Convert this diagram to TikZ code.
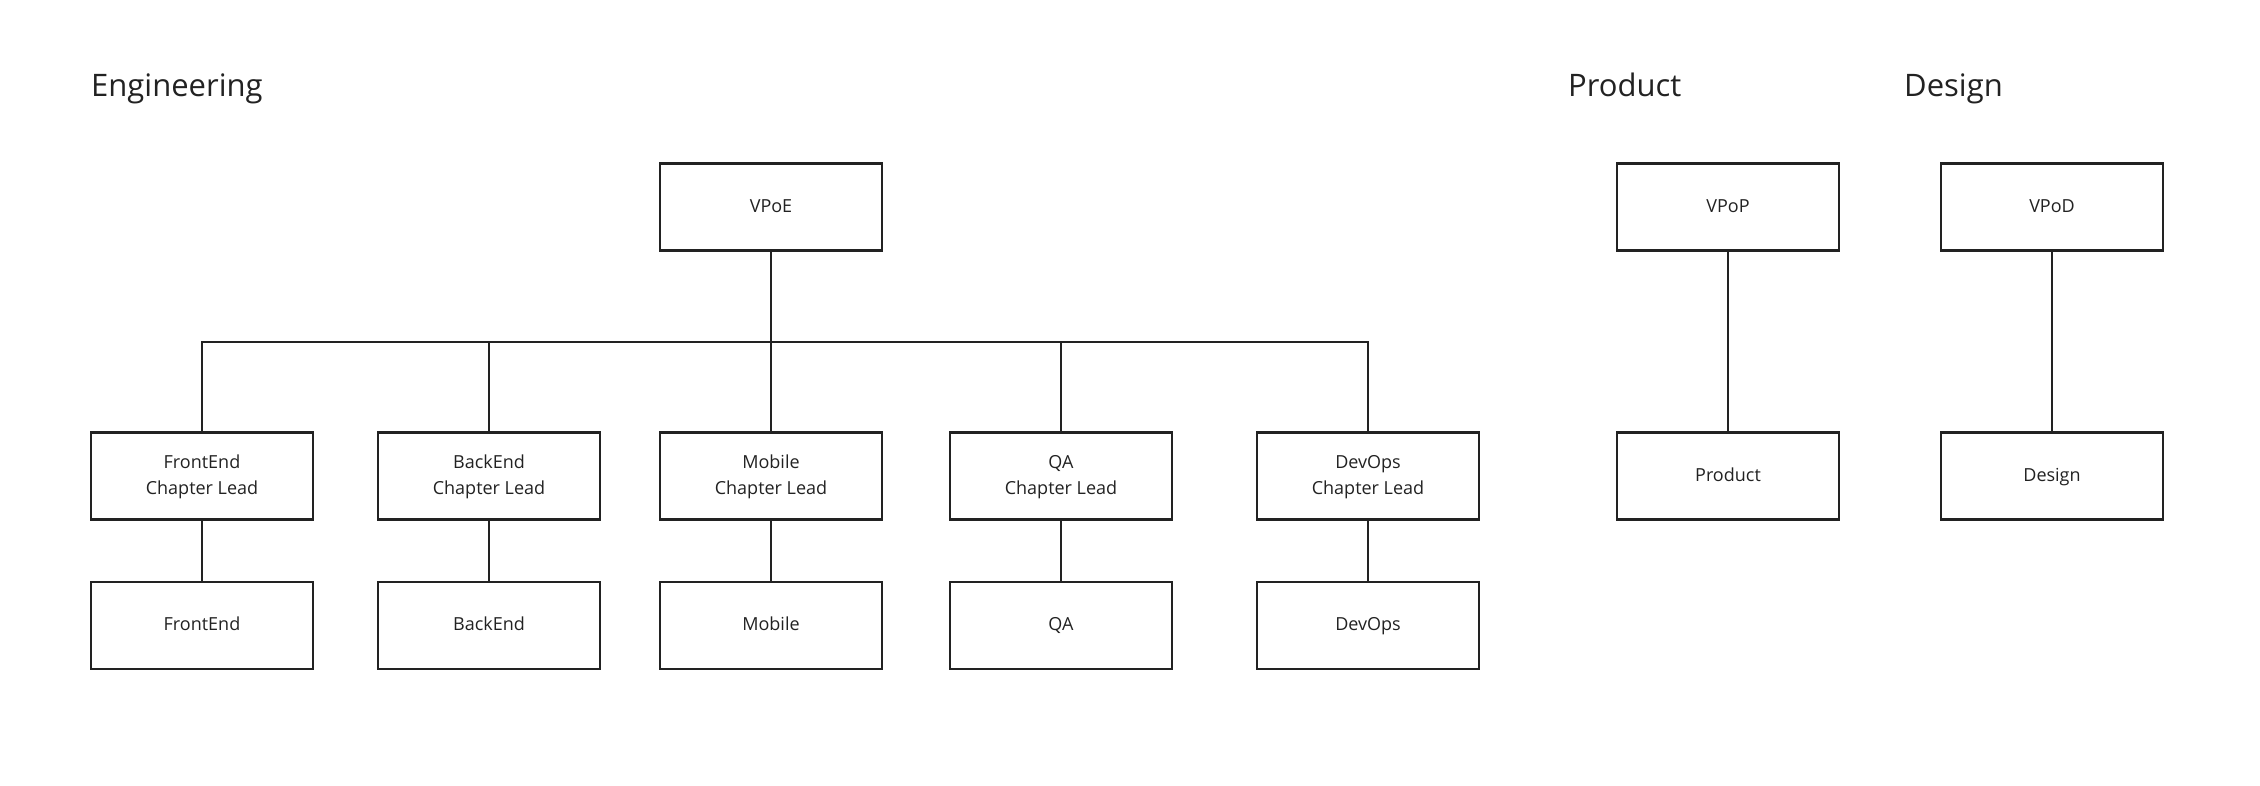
\documentclass[tikz,border=0pt]{standalone}
\usepackage{fontspec}
\setmainfont{Open Sans}
\definecolor{ink}{HTML}{222222}
\newcommand{\boxline}[1]{\strut#1\strut}
\begin{document}
\begin{tikzpicture}[x=1pt,y=-1pt,
  box/.style={draw=ink,line width=2.8pt,minimum width=222pt,minimum height=87pt,
    align=center,text=ink,font=\fontsize{18}{26}\selectfont,inner sep=0pt},
  conn/.style={draw=ink,line width=1.5pt},
  title/.style={anchor=base west,text=ink,font=\fontsize{31}{36}\selectfont,inner sep=0pt}]
\useasboundingbox (0,0) rectangle (2260,786);
\node[title] (teng) at (91,97) {Engineering};
\node[title] (tprod) at (1568,97) {Product};
\node[title] (tdes) at (1904,97) {Design};

\node[box] (vpoe) at (771,207) {\boxline{VPoE}};
\node[box] (vpop) at (1728,207) {\boxline{VPoP}};
\node[box] (vpod) at (2052,207) {\boxline{VPoD}};

\node[box] (fecl) at (202,476) {\boxline{FrontEnd}\\\boxline{Chapter Lead}};
\node[box] (becl) at (489,476) {\boxline{BackEnd}\\\boxline{Chapter Lead}};
\node[box] (mocl) at (771,476) {\boxline{Mobile}\\\boxline{Chapter Lead}};
\node[box] (qacl) at (1061,476) {\boxline{QA}\\\boxline{Chapter Lead}};
\node[box] (docl) at (1368,476) {\boxline{DevOps}\\\boxline{Chapter Lead}};
\node[box] (prod) at (1728,476) {\boxline{Product}};
\node[box] (des) at (2052,476) {\boxline{Design}};

\node[box] (fe) at (202,625.5) {\boxline{FrontEnd}};
\node[box] (be) at (489,625.5) {\boxline{BackEnd}};
\node[box] (mo) at (771,625.5) {\boxline{Mobile}};
\node[box] (qa) at (1061,625.5) {\boxline{QA}};
\node[box] (do) at (1368,625.5) {\boxline{DevOps}};

\coordinate (bus) at (0,342);
\draw[conn,line width=2.6pt] (vpoe.south) -- (vpoe.south |- bus);
\draw[conn] (fecl.north) -- (fecl.north |- bus) -- (docl.north |- bus) -- (docl.north);
\draw[conn] (becl.north) -- (becl.north |- bus);
\draw[conn] (mocl.north) -- (mocl.north |- bus);
\draw[conn] (qacl.north) -- (qacl.north |- bus);

\draw[conn] (fecl.south) -- (fe.north);
\draw[conn] (becl.south) -- (be.north);
\draw[conn] (mocl.south) -- (mo.north);
\draw[conn] (qacl.south) -- (qa.north);
\draw[conn] (docl.south) -- (do.north);
\draw[conn] (vpop.south) -- (prod.north);
\draw[conn] (vpod.south) -- (des.north);
\end{tikzpicture}
\end{document}
